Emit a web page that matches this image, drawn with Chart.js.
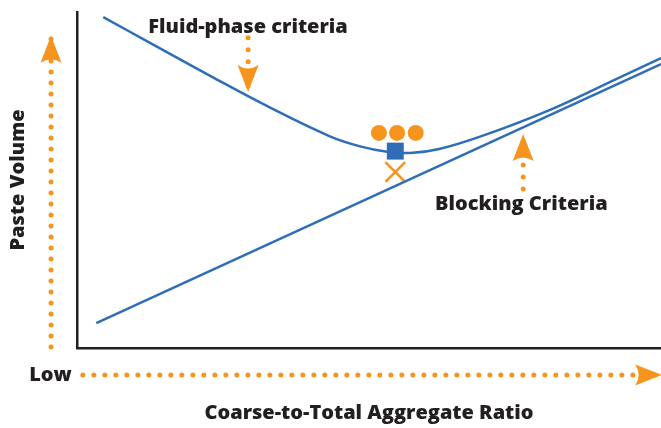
<!DOCTYPE html>
<html>
<head>
<meta charset="utf-8">
<script src="https://cdn.jsdelivr.net/npm/chart.js@4/dist/chart.umd.min.js"></script>
<style>
  html, body { margin: 0; padding: 0; background: #fff; overflow: hidden; }
  #wrap { width: 661px; height: 428px; position: relative; }
</style>
</head>
<body>
<div id="wrap"><canvas id="chart"></canvas></div>
<script>
// relative units, 0-100 on both axes
const fluid_x = [4.5, 12.5, 22.8, 33.0, 43.3, 48.5, 53.1, 57.5, 62.0, 69.5, 81.0, 92.5, 100];
const fluid_y = [98.5, 90.8, 81.0, 71.6, 63.0, 60.0, 58.4, 58.1, 59.2, 63.2, 70.9, 80.2, 86.3];

const blocking_x = [3.3, 100];
const blocking_y = [7.4, 84.5];

const optimum_x = [54.5];
const optimum_y = [58.6];
const mixes_x = [51.7, 54.8, 58.0];
const mixes_y = [64.0, 64.0, 64.0];
const cross_x = [54.5];
const cross_y = [52.4];

// dotted arrows: [start, tip]
const arrow_paste_x = [-4.45, -4.45];
const arrow_paste_y = [0.3, 92.9];
const arrow_ratio_x = [1.0, 100.2];
const arrow_ratio_y = [-8.0, -8.0];
const arrow_fluid_x = [29.3, 29.3];
const arrow_fluid_y = [92.3, 76.2];
const arrow_block_x = [76.4, 76.4];
const arrow_block_y = [47.3, 63.7];

const BLUE = '#2f6eb7';
const ORANGE = '#f7941d';
const INK = '#231f20';
const FONT = '"Open Sans", Lato, sans-serif';

function pts(xs, ys) {
    return xs.map((x, i) => ({x: x, y: ys[i]}));
}

function dotted(xs, ys, gap) {
    return {
        data: pts(xs, ys),
        showLine: true,
        borderColor: ORANGE,
        borderWidth: 5,
        borderDash: [0, gap],
        borderCapStyle: 'round',
        pointRadius: 0,
        clip: false,
        arrowHead: true
    };
}

// notched arrow head at the end of each dotted line
const arrowHeads = {
    id: 'arrowHeads',
    afterDatasetsDraw(chart) {
        const ctx = chart.ctx;
        chart.data.datasets.forEach((ds, i) => {
            if (!ds.arrowHead) return;
            const els = chart.getDatasetMeta(i).data;
            const a = els[els.length - 2], b = els[els.length - 1];
            const ang = Math.atan2(b.y - a.y, b.x - a.x);
            const len = 27, half = 10.5, notch = 20;
            ctx.save();
            ctx.translate(b.x, b.y);
            ctx.rotate(ang);
            ctx.fillStyle = ORANGE;
            ctx.beginPath();
            ctx.moveTo(0, 0);
            ctx.lineTo(-len, -half);
            ctx.quadraticCurveTo(-notch, 0, -len, half);
            ctx.closePath();
            ctx.fill();
            ctx.restore();
        });
    }
};

const labels = [
    {text: 'Fluid-phase criteria', x: 12.2, y: 95.5, align: 'left'},
    {text: 'Blocking Criteria', x: 61.3, y: 42.9, align: 'left'},
    {text: 'Low', x: -0.9, y: -8.0, align: 'right'}
];

const textLabels = {
    id: 'textLabels',
    afterDraw(chart) {
        const ctx = chart.ctx;
        const xs = chart.scales.x, ys = chart.scales.y;
        ctx.save();
        ctx.fillStyle = INK;
        ctx.font = '800 20px ' + FONT;
        ctx.textBaseline = 'middle';
        labels.forEach(l => {
            ctx.textAlign = l.align;
            ctx.fillText(l.text, xs.getPixelForValue(l.x), ys.getPixelForValue(l.y));
        });
        ctx.restore();
    }
};

new Chart(document.getElementById('chart'), {
    type: 'scatter',
    data: {
        datasets: [
            {
                data: pts(fluid_x, fluid_y),
                showLine: true,
                borderColor: BLUE,
                borderWidth: 2.5,
                tension: 0.4,
                pointRadius: 0
            },
            {
                data: pts(blocking_x, blocking_y),
                showLine: true,
                borderColor: BLUE,
                borderWidth: 2.5,
                pointRadius: 0
            },
            dotted(arrow_paste_x, arrow_paste_y, 11),
            dotted(arrow_ratio_x, arrow_ratio_y, 11),
            dotted(arrow_fluid_x, arrow_fluid_y, 12),
            dotted(arrow_block_x, arrow_block_y, 12),
            {
                data: pts(mixes_x, mixes_y),
                pointStyle: 'circle',
                pointRadius: 8,
                backgroundColor: ORANGE,
                borderWidth: 0
            },
            {
                data: pts(optimum_x, optimum_y),
                pointStyle: 'rect',
                pointRadius: 12,
                backgroundColor: BLUE,
                borderWidth: 0
            },
            {
                data: pts(cross_x, cross_y),
                pointStyle: 'crossRot',
                pointRadius: 14,
                borderColor: ORANGE,
                borderWidth: 2.5
            }
        ]
    },
    options: {
        responsive: true,
        maintainAspectRatio: false,
        animation: false,
        layout: { autoPadding: false, padding: { top: 12, right: 0, left: 0, bottom: 0 } },
        plugins: {
            legend: { display: false },
            tooltip: { enabled: false }
        },
        scales: {
            x: {
                min: 0,
                max: 100,
                ticks: { display: false },
                grid: { display: false },
                border: { display: true, color: INK, width: 2.5 },
                title: {
                    display: true,
                    text: 'Coarse-to-Total Aggregate Ratio',
                    color: INK,
                    font: { family: FONT, size: 20, weight: '800' },
                    padding: { top: 0, bottom: 3 }
                },
                afterFit: s => { s.height = 80; }
            },
            y: {
                min: 0,
                max: 100,
                ticks: { display: false },
                grid: { display: false },
                border: { display: true, color: INK, width: 2.5 },
                title: {
                    display: true,
                    text: 'Paste Volume',
                    color: INK,
                    font: { family: FONT, size: 20, weight: '800' },
                    padding: { top: 6, bottom: 0 }
                },
                afterFit: s => { s.width = 77; }
            }
        }
    },
    plugins: [arrowHeads, textLabels]
});
</script>
</body>
</html>
